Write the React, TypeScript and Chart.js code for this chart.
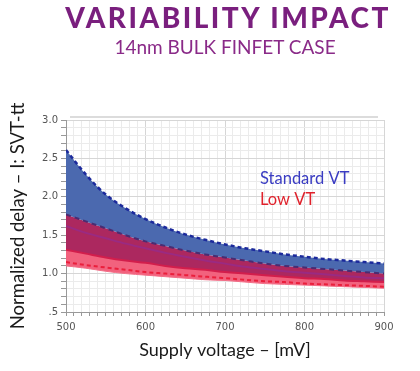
import React, { useEffect, useRef } from "react";
import { Chart, registerables } from "chart.js";

Chart.register(...registerables);

// ---- data ----
const voltages = [500, 525, 550, 575, 600, 625, 650, 675, 700, 725, 750, 775, 800, 825, 850, 875, 900];
const svtMax = [2.61, 2.29, 2.03, 1.85, 1.71, 1.60, 1.51, 1.44, 1.38, 1.33, 1.29, 1.25, 1.22, 1.19, 1.17, 1.15, 1.13];
const lvtMax = [1.77, 1.68, 1.59, 1.50, 1.42, 1.36, 1.30, 1.25, 1.21, 1.17, 1.13, 1.10, 1.08, 1.06, 1.04, 1.02, 1.00];
const svtMid = [1.62, 1.53, 1.46, 1.39, 1.33, 1.27, 1.22, 1.17, 1.13, 1.09, 1.06, 1.03, 1.01, 0.99, 0.97, 0.95, 0.94];
const svtMin = [1.31, 1.26, 1.21, 1.17, 1.14, 1.10, 1.07, 1.05, 1.02, 1.00, 0.98, 0.96, 0.94, 0.93, 0.91, 0.90, 0.89];
const lvtMid = [1.15, 1.11, 1.08, 1.05, 1.02, 1.00, 0.98, 0.96, 0.94, 0.92, 0.90, 0.89, 0.87, 0.86, 0.85, 0.84, 0.83];
const lvtMin = [1.10, 1.07, 1.03, 1.00, 0.98, 0.96, 0.94, 0.92, 0.91, 0.89, 0.87, 0.86, 0.85, 0.84, 0.83, 0.82, 0.81];

const xTickLabels = ["500", "600", "700", "800", "900"];
const yTickLabels = [".5", "1.0", "1.5", "2.0", "2.5", "3.0"];

const titleText = "VARIABILITY IMPACT";
const subtitleText = "14nm BULK FINFET CASE";
const xTitle = "Supply voltage – [mV]";
const yTitle = "Normalized delay – I: SVT-tt";
const legendTexts = ["Standard VT", "Low VT"];
const legendAnchors = [
  { x: 744, y: 2.23 },
  { x: 744, y: 1.96 },
];

const toPts = (arr: number[]) => voltages.map((v, i) => ({ x: v, y: arr[i] }));

const decor = {
  id: "decor",
  afterDraw(chart: any) {
    const { ctx, chartArea, scales } = chart;
    ctx.save();
    ctx.fillStyle = "#dcdcdc";
    ctx.fillRect(chartArea.left + 4, chartArea.top - 4, chartArea.right - chartArea.left - 10, 2);
    ctx.font = "16.5px Lato";
    ctx.textBaseline = "middle";
    ctx.textAlign = "left";
    const cols = ["#3a3cc2", "#e0222c"];
    legendTexts.forEach((t, i) => {
      ctx.fillStyle = cols[i];
      ctx.fillText(t, scales.x.getPixelForValue(legendAnchors[i].x), scales.y.getPixelForValue(legendAnchors[i].y));
    });
    ctx.restore();
  },
};

export default function App() {
  const ref = useRef<HTMLCanvasElement>(null);
  useEffect(() => {
    if (!ref.current) return;
    const isMajorY = (v: number) => Math.abs(v * 2 - Math.round(v * 2)) < 1e-6;
    const isMajorX = (v: number) => Math.abs(v / 100 - Math.round(v / 100)) < 1e-6;
    const chart = new Chart(ref.current, {
      type: "line",
      data: {
        datasets: [
          {
            data: toPts(svtMax),
            borderColor: "#1c2a9c",
            borderWidth: 2.5,
            borderDash: [4, 3],
            backgroundColor: "rgb(75,105,175)",
            fill: 1,
          },
          {
            data: toPts(lvtMax),
            borderColor: "#4a2c72",
            borderWidth: 2,
            borderDash: [5, 4],
            backgroundColor: "rgb(172,40,95)",
            fill: 3,
          },
          {
            data: toPts(svtMid),
            borderColor: "#9a2a82",
            borderWidth: 2,
            fill: false,
          },
          {
            data: toPts(svtMin),
            borderColor: "#d21e4c",
            borderWidth: 2,
            backgroundColor: "rgb(242,98,126)",
            fill: 5,
          },
          {
            data: toPts(lvtMid),
            borderColor: "#ea1f3c",
            borderWidth: 2,
            borderDash: [4, 3],
            fill: false,
          },
          {
            data: toPts(lvtMin),
            borderColor: "rgb(242,110,135)",
            borderWidth: 1,
            fill: false,
          },
        ],
      },
      options: {
        animation: false,
        responsive: false,
        devicePixelRatio: 1,
        layout: { padding: { top: 120, right: 36, bottom: 0, left: 0 } },
        elements: {
          point: { radius: 0 },
          line: { tension: 0.4, cubicInterpolationMode: "monotone" },
        },
        plugins: {
          legend: { display: false },
          tooltip: { enabled: false },
          filler: { drawTime: "beforeDatasetsDraw" },
        },
        scales: {
          x: {
            type: "linear",
            min: 500,
            max: 900,
            afterFit: (s: any) => {
              s.height = 59;
            },
            ticks: {
              stepSize: 10,
              autoSkip: false,
              maxRotation: 0,
              padding: 5,
              color: "#555",
              font: { family: "DejaVu Sans", size: 10 },
              callback: (v: any) => {
                const n = Number(v);
                if (!isMajorX(n)) return "";
                const idx = Math.round((n - 500) / 100);
                return xTickLabels[idx] ?? "";
              },
            },
            grid: {
              color: (c: any) => (c.tick && isMajorX(c.tick.value) ? "#d6d6d6" : "#ebebeb"),
              tickColor: "#999",
              tickLength: 4,
            },
            border: { color: "#999" },
            title: {
              display: true,
              text: xTitle,
              color: "#1a1a1a",
              font: { family: "Lato", size: 18 },
              padding: { top: 0, bottom: 10 },
            },
          },
          y: {
            type: "linear",
            min: 0.5,
            max: 3.0,
            afterFit: (s: any) => {
              s.width = 66;
            },
            ticks: {
              stepSize: 0.1,
              autoSkip: false,
              padding: 3,
              color: "#555",
              font: { family: "DejaVu Sans", size: 10 },
              callback: (v: any) => {
                const n = Math.round(Number(v) * 10) / 10;
                if (!isMajorY(n)) return "";
                const idx = Math.round((n - 0.5) * 2);
                return yTickLabels[idx] ?? "";
              },
            },
            grid: {
              color: (c: any) => (c.tick && isMajorY(c.tick.value) ? "#d6d6d6" : "#ebebeb"),
              tickColor: "#999",
              tickLength: 5,
            },
            border: { color: "#999" },
            title: {
              display: true,
              text: yTitle,
              color: "#1a1a1a",
              font: { family: "Lato", size: 18.5 },
              padding: { top: 7, bottom: 0 },
            },
          },
        },
      },
      plugins: [decor],
    } as any);
    return () => chart.destroy();
  }, []);

  return (
    <div style={{ position: "absolute", left: 0, top: 0, width: 420, height: 371, background: "#fff" }}>
      <canvas ref={ref} width={420} height={371} style={{ position: "absolute", left: 0, top: 0, width: 420, height: 371 }} />
      <div
        style={{
          position: "absolute",
          left: 0,
          top: 3,
          width: 456,
          textAlign: "center",
          fontFamily: "Lato",
          fontWeight: 900,
          fontSize: 28,
          lineHeight: "28px",
          letterSpacing: 2.5,
          color: "#7a1f7e",
          whiteSpace: "nowrap",
        }}
      >
        {titleText}
      </div>
      <div
        style={{
          position: "absolute",
          left: 0,
          top: 37,
          width: 450,
          textAlign: "center",
          fontFamily: "Lato",
          fontSize: 19,
          lineHeight: "19px",
          color: "#8a2a88",
          whiteSpace: "nowrap",
        }}
      >
        {subtitleText}
      </div>
    </div>
  );
}
